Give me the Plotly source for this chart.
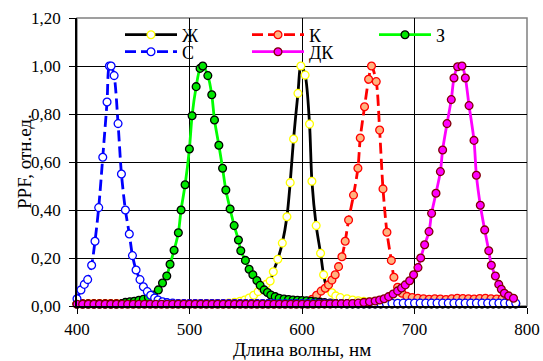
import plotly.graph_objects as go

# ---------------- data ----------------
# Ж (yellow LED) – black line, yellow open markers
zh_x = [400, 405, 410, 415, 420, 425, 430, 435, 440, 445, 450, 455, 460, 465, 470, 475, 480, 485,
        490, 495, 500, 505, 510, 515, 520, 525, 530, 535, 540, 545, 549, 553, 557, 561, 564.5, 568,
        571.7, 574.5, 578.5, 582.5, 586.6, 589.5, 592.5, 596.4, 599, 602.8, 606.7, 608.8, 612.6,
        616.5, 619.2, 622.3, 626.6, 630, 634, 640, 645, 650, 655, 660, 665, 670, 675, 680, 685, 690,
        695, 700, 705, 710, 715, 720, 725, 730, 735, 740, 745, 750, 755, 760, 765, 770, 775, 780,
        785, 790]
zh_y = [0.010, 0.010, 0.010, 0.010, 0.010, 0.010, 0.010, 0.010, 0.010, 0.010, 0.010, 0.010, 0.010,
        0.010, 0.010, 0.010, 0.010, 0.010, 0.010, 0.010, 0.010, 0.010, 0.010, 0.010, 0.010, 0.010,
        0.010, 0.012, 0.015, 0.020, 0.025, 0.033, 0.045, 0.060, 0.075, 0.090, 0.104, 0.143, 0.195,
        0.262, 0.372, 0.514, 0.696, 0.886, 1.000, 0.962, 0.758, 0.520, 0.335, 0.220, 0.130, 0.074,
        0.055, 0.042, 0.035, 0.030, 0.025, 0.022, 0.020, 0.018, 0.016, 0.015, 0.013, 0.012, 0.012,
        0.012, 0.012, 0.012, 0.012, 0.012, 0.012, 0.012, 0.012, 0.012, 0.012, 0.012, 0.012, 0.012,
        0.012, 0.012, 0.012, 0.012, 0.012, 0.012, 0.012, 0.012]

# К (red LED) – red dashed line, light orange markers
k_x = [400, 405, 410, 415, 420, 425, 430, 435, 440, 445, 450, 455, 460, 465, 470, 475, 480, 485,
       490, 495, 500, 505, 510, 515, 520, 525, 530, 535, 540, 545, 550, 555, 560, 565, 570, 575,
       580, 585, 590, 595, 600, 605, 609, 613, 617, 620.6, 623.6, 626.6, 629.5, 632.5, 635.5,
       638.4, 641.4, 645.8, 649.7, 651.8, 655.6, 659.2, 661.8, 666, 669, 672, 675.5, 679.4, 681.7,
       685, 688.9, 693.3, 698, 703, 708, 713, 718, 723, 728, 733, 738, 743, 748, 753, 758, 763,
       768, 773, 778, 783, 788]
k_y = [0.010, 0.010, 0.010, 0.010, 0.010, 0.010, 0.010, 0.010, 0.010, 0.010, 0.010, 0.010, 0.010,
       0.010, 0.010, 0.010, 0.010, 0.010, 0.010, 0.010, 0.010, 0.010, 0.010, 0.010, 0.010, 0.010,
       0.010, 0.010, 0.010, 0.010, 0.010, 0.010, 0.010, 0.010, 0.010, 0.010, 0.010, 0.011, 0.012,
       0.013, 0.015, 0.019, 0.028, 0.045, 0.062, 0.074, 0.088, 0.108, 0.130, 0.164, 0.205, 0.270,
       0.358, 0.462, 0.574, 0.700, 0.830, 0.945, 1.000, 0.935, 0.733, 0.488, 0.307, 0.190, 0.120,
       0.078, 0.053, 0.040, 0.035, 0.032, 0.030, 0.028, 0.030, 0.029, 0.027, 0.030, 0.032, 0.031,
       0.030, 0.029, 0.031, 0.032, 0.030, 0.029, 0.031, 0.030, 0.028]

# З (green LED) – green line, green filled markers
z_x = [400, 405, 410, 415, 420, 425, 430, 435, 440, 443, 447, 451, 455, 459, 463.4, 467.9, 472.3,
       476, 479.8, 482.7, 486.3, 490.1, 492.5, 496.1, 499.9, 502.3, 505.9, 509.4, 511.8, 516.3,
       519.8, 522.2, 526.1, 529.4, 532.3, 536.1, 539.7, 543.5, 545.6, 549.7, 553, 556.3, 559.9,
       562.8, 566.4, 569.3, 572.3, 576.2, 579.7, 584, 588, 592, 596, 600, 604, 608, 612, 616, 620,
       625, 630, 635, 640, 645, 650, 655, 660, 665, 670, 675, 680, 685, 690, 695, 700, 705, 710,
       715, 720, 725, 730, 735, 740, 745, 750, 755, 760, 765, 770, 775, 780, 785, 790]
z_y = [0.008, 0.008, 0.008, 0.008, 0.008, 0.008, 0.008, 0.008, 0.010, 0.015, 0.018, 0.020, 0.024,
       0.028, 0.036, 0.046, 0.067, 0.096, 0.125, 0.174, 0.232, 0.305, 0.400, 0.505, 0.654, 0.793,
       0.914, 0.990, 1.000, 0.960, 0.880, 0.775, 0.670, 0.574, 0.483, 0.404, 0.335, 0.275, 0.230,
       0.190, 0.153, 0.130, 0.106, 0.086, 0.067, 0.056, 0.046, 0.039, 0.032, 0.029, 0.027, 0.025,
       0.024, 0.023, 0.022, 0.020, 0.018, 0.016, 0.014, 0.012, 0.010, 0.009, 0.008, 0.008, 0.008,
       0.008, 0.008, 0.008, 0.008, 0.008, 0.008, 0.008, 0.008, 0.008, 0.008, 0.008, 0.008, 0.008,
       0.008, 0.008, 0.008, 0.008, 0.008, 0.008, 0.008, 0.008, 0.008, 0.008, 0.008, 0.008, 0.008,
       0.008, 0.008]

# С (blue LED) – blue dashed line, blue open markers
s_x = [400, 403.5, 406.5, 409.5, 413, 416, 419.3, 422.9, 426.7, 428.8, 430.3, 433, 436.5, 439.5,
       443, 446.5, 449.3, 452.5, 456, 459, 462.5, 465.5, 469, 472, 476, 480, 485, 490, 495, 500,
       505, 510, 515, 520, 525, 530, 535, 540, 545, 550, 555, 560, 565, 570, 575, 580, 585, 590,
       595, 600, 605, 610, 615, 620, 625, 630, 635, 640, 645, 650, 655, 660, 665, 670, 675, 680,
       685, 690, 695, 700, 705, 710, 715, 720, 725, 730, 735, 740, 745, 750, 755, 760, 765, 770,
       775, 780, 785, 790]
s_y = [0.030, 0.067, 0.090, 0.110, 0.170, 0.270, 0.410, 0.620, 0.850, 1.000, 1.000, 0.960, 0.760,
       0.550, 0.400, 0.300, 0.210, 0.150, 0.110, 0.080, 0.060, 0.045, 0.033, 0.025, 0.018, 0.014,
       0.012, 0.010, 0.010, 0.010, 0.010, 0.010, 0.010, 0.010, 0.010, 0.010, 0.010, 0.010, 0.010,
       0.010, 0.010, 0.010, 0.010, 0.010, 0.010, 0.010, 0.010, 0.010, 0.010, 0.010, 0.010, 0.010,
       0.010, 0.010, 0.010, 0.010, 0.010, 0.010, 0.010, 0.010, 0.010, 0.010, 0.010, 0.010, 0.010,
       0.011, 0.011, 0.012, 0.012, 0.012, 0.012, 0.012, 0.012, 0.012, 0.012, 0.012, 0.012, 0.012,
       0.012, 0.012, 0.012, 0.012, 0.012, 0.012, 0.012, 0.012, 0.012, 0.012]

# ДК (far-red LED) – magenta line, magenta markers
dk_x = [400, 405, 410, 415, 420, 425, 430, 435, 440, 445, 450, 455, 460, 465, 470, 475, 480, 485,
        490, 495, 500, 505, 510, 515, 520, 525, 530, 535, 540, 545, 550, 555, 560, 565, 570, 575,
        580, 585, 590, 595, 600, 605, 610, 615, 620, 625, 630, 635, 640, 645, 650, 655, 660, 665,
        669, 673, 677, 681, 685, 688.5, 691.8, 695.7, 699.2, 703.1, 705.5, 709, 712.9, 715.2,
        719.1, 723, 725, 728.9, 732.7, 735.1, 738.3, 742.2, 745.2, 748.5, 752.9, 755, 758.5, 762.4,
        766, 768.3, 771.9, 774.9, 777.2, 779.9, 783.7, 788]
dk_y = [0.007, 0.007, 0.007, 0.007, 0.007, 0.007, 0.007, 0.007, 0.007, 0.007, 0.007, 0.007, 0.007,
        0.007, 0.007, 0.007, 0.007, 0.007, 0.007, 0.007, 0.007, 0.007, 0.007, 0.007, 0.007, 0.007,
        0.007, 0.007, 0.007, 0.007, 0.007, 0.007, 0.007, 0.007, 0.007, 0.007, 0.007, 0.007, 0.007,
        0.007, 0.007, 0.007, 0.007, 0.008, 0.008, 0.008, 0.009, 0.009, 0.010, 0.010, 0.012, 0.015,
        0.018, 0.021, 0.025, 0.030, 0.039, 0.050, 0.063, 0.075, 0.088, 0.105, 0.130, 0.160, 0.200,
        0.255, 0.310, 0.386, 0.470, 0.560, 0.650, 0.760, 0.860, 0.950, 0.997, 1.000, 0.950, 0.835,
        0.690, 0.545, 0.420, 0.317, 0.230, 0.170, 0.125, 0.090, 0.070, 0.053, 0.042, 0.032]

x_ticks = [400, 500, 600, 700, 800]
y_ticks = [0.0, 0.2, 0.4, 0.6, 0.8, 1.0, 1.2]
x_title = "Длина волны, нм"
y_title = "PPF, отн.ед."

FONT = "Liberation Serif, Times New Roman, DejaVu Serif, serif"

# plot area in pixels
L, R, T, B = 77, 527, 18, 306
W, H = 543, 361

series = [
    # name, x, y, line colour, dash, marker fill, marker edge, legend id, legend line start px, legend row y px
    ("Ж", zh_x, zh_y, "#000000", "solid", "#FFFFFF", "#FFFF00", "legend", 125, 35),
    ("К", k_x, k_y, "#FF0000", "11px,5px", "#FFB380", "#FF0000", "legend2", 252, 35),
    ("З", z_x, z_y, "#00FF00", "solid", "#00E600", "#000000", "legend3", 379, 35),
    ("С", s_x, s_y, "#0000FF", "11px,5px", "#FFFFFF", "#0000FF", "legend4", 125, 52),
    ("ДК", dk_x, dk_y, "#FF00FF", "solid", "#FF00FF", "#800000", "legend5", 252, 52),
]

fig = go.Figure()
legends = {}
for name, xs, ys, lc, dash, mfill, medge, leg, lx, ly in series:
    fig.add_trace(go.Scatter(
        x=xs, y=ys, name=name, mode="lines+markers",
        line=dict(color=lc, width=2.8, dash=dash, shape="spline", smoothing=0.8),
        marker=dict(symbol="circle", size=7.8, color=mfill, line=dict(color=medge, width=1.3)),
        cliponaxis=False, legend=leg,
    ))
    legends[leg] = dict(
        orientation="h", xanchor="left", yanchor="middle",
        x=(lx - 5 - L) / (R - L), y=(B - ly) / (B - T),
        font=dict(family=FONT, size=18, color="#000000"),
        bgcolor="rgba(0,0,0,0)", itemwidth=52, borderwidth=0,
    )

# grey plot-area border (top / right)
fig.add_shape(type="rect", xref="paper", yref="paper", x0=0, x1=1, y0=0, y1=1,
              line=dict(color="#808080", width=1.5), layer="below")

# axis titles placed as annotations (exact pixel position)
fig.add_annotation(text=x_title, xref="paper", yref="paper", x=0.5, y=(B - 349) / (B - T),
                   xanchor="center", yanchor="middle", showarrow=False, borderpad=0,
                   font=dict(family=FONT, size=19, color="#000000"))
fig.add_annotation(text=y_title, xref="paper", yref="paper", x=(24 - L) / (R - L), y=0.5,
                   xanchor="center", yanchor="middle", showarrow=False, textangle=-90, borderpad=0,
                   font=dict(family=FONT, size=19, color="#000000"))

fig.update_layout(
    width=W, height=H,
    margin=dict(l=L, r=W - R, t=T, b=H - B, autoexpand=False),
    paper_bgcolor="#FFFFFF", plot_bgcolor="#FFFFFF",
    separators=", ",
    font=dict(family=FONT, size=17, color="#000000"),
    showlegend=True,
    **legends,
    xaxis=dict(range=[400, 800], tickvals=x_ticks, ticktext=[str(v) for v in x_ticks],
               showgrid=True, gridcolor="#000000", gridwidth=1,
               showline=True, linecolor="#000000", linewidth=1.5,
               ticks="outside", ticklen=6, tickcolor="#000000", tickwidth=1,
               ticklabelstandoff=1,
               zeroline=False, automargin=False, tickfont=dict(family=FONT, size=17)),
    yaxis=dict(range=[0, 1.2], tickvals=y_ticks, tickformat=".2f",
               showgrid=True, gridcolor="#000000", gridwidth=1,
               showline=True, linecolor="#000000", linewidth=1.5,
               ticks="outside", ticklen=6, tickcolor="#000000", tickwidth=1,
               ticklabelstandoff=5,
               zeroline=False, automargin=False, tickfont=dict(family=FONT, size=17)),
)

fig.write_html("out.html")
